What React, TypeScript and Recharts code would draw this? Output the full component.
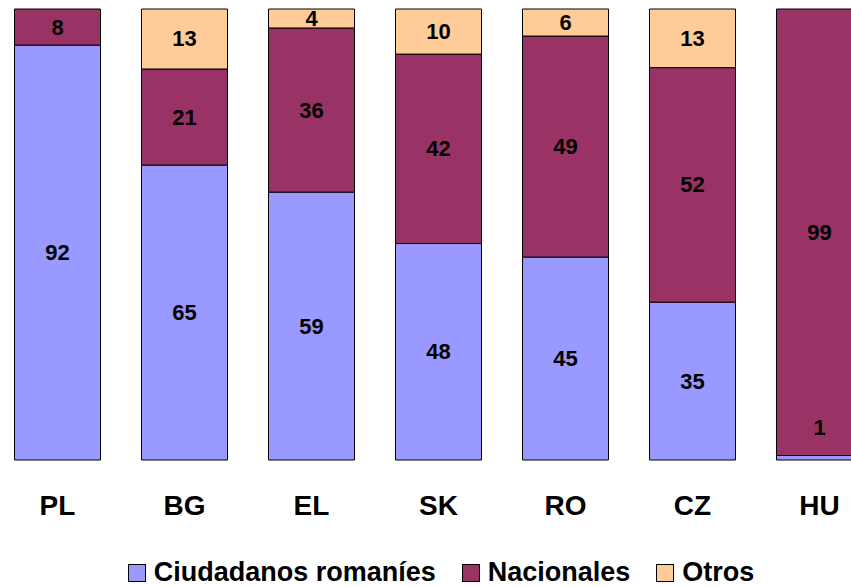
import { Bar, BarChart, LabelList, Legend, XAxis, YAxis } from "recharts";

const countries = ["PL", "BG", "EL", "SK", "RO", "CZ", "HU"];
const romanians = [92, 65.4, 59.4, 48, 45, 35, 1];
const nationals = [8, 21.3, 36.4, 42, 49, 52, 99];
const others = [null, 13.3, 4.2, 10, 6, 13, null];

const series = [
  { key: "romanians", name: "Ciudadanos romaníes", color: "#9999FF" },
  { key: "nationals", name: "Nacionales", color: "#993366" },
  { key: "others", name: "Otros", color: "#FFCC99" },
];

const data = countries.map((c, i) => ({
  country: c,
  romanians: romanians[i],
  nationals: nationals[i],
  others: others[i],
}));

const FONT = "'Liberation Sans', Arial, sans-serif";

// value label centred in its segment; very thin segments get it lifted above
function SegmentLabel(props: any) {
  const { x, y, width, height, value } = props;
  if (value == null || value === 0) return null;
  let cy = y + height / 2;
  if (height < 10) cy = y + height / 2 - 30;
  return (
    <text
      x={x + width / 2}
      y={cy}
      textAnchor="middle"
      dominantBaseline="central"
      fontFamily={FONT}
      fontWeight="bold"
      fontSize={22}
      fill="#000"
    >
      {Math.round(value)}
    </text>
  );
}

function CountryTick(props: any) {
  const { x, payload } = props;
  return (
    <text
      x={x}
      y={515}
      textAnchor="middle"
      fontFamily={FONT}
      fontWeight="bold"
      fontSize={28}
      fill="#000"
    >
      {payload.value}
    </text>
  );
}

function LegendBox() {
  return (
    <div
      style={{
        display: "flex",
        justifyContent: "center",
        paddingLeft: 6,
        fontFamily: FONT,
        fontWeight: "bold",
        fontSize: 27,
        color: "#000",
        height: 31,
      }}
    >
      {series.map((s) => (
        <div
          key={s.key}
          style={{ display: "flex", alignItems: "center", margin: "0 13px" }}
        >
          <span
            style={{
              width: 16,
              height: 16,
              background: s.color,
              border: "1px solid #000",
              marginRight: 8,
              display: "inline-block",
            }}
          />
          <span>{s.name}</span>
        </div>
      ))}
    </div>
  );
}

export default function App() {
  return (
    <div
      style={{
        position: "absolute",
        left: 0,
        top: 0,
        width: 851,
        height: 587,
        overflow: "hidden",
        background: "#fff",
      }}
    >
      <div style={{ position: "absolute", left: -6.5, top: 0 }}>
        <BarChart
          width={889}
          height={587}
          data={data}
          margin={{ top: 9, right: 0, bottom: 0, left: 0 }}
          barCategoryGap={20.5}
        >
          <XAxis
            dataKey="country"
            axisLine={false}
            tickLine={false}
            height={96}
            tick={<CountryTick />}
            interval={0}
          />
          <YAxis hide domain={[0, 100]} />
          <Legend
            verticalAlign="bottom"
            wrapperStyle={{ left: 0, top: 557, width: 889 }}
            content={<LegendBox />}
          />
          {series.map((s) => (
            <Bar
              key={s.key}
              dataKey={s.key}
              name={s.name}
              stackId="a"
              fill={s.color}
              stroke="#000"
              strokeWidth={1}
              isAnimationActive={false}
            >
              <LabelList dataKey={s.key} content={<SegmentLabel />} />
            </Bar>
          ))}
        </BarChart>
      </div>
    </div>
  );
}
